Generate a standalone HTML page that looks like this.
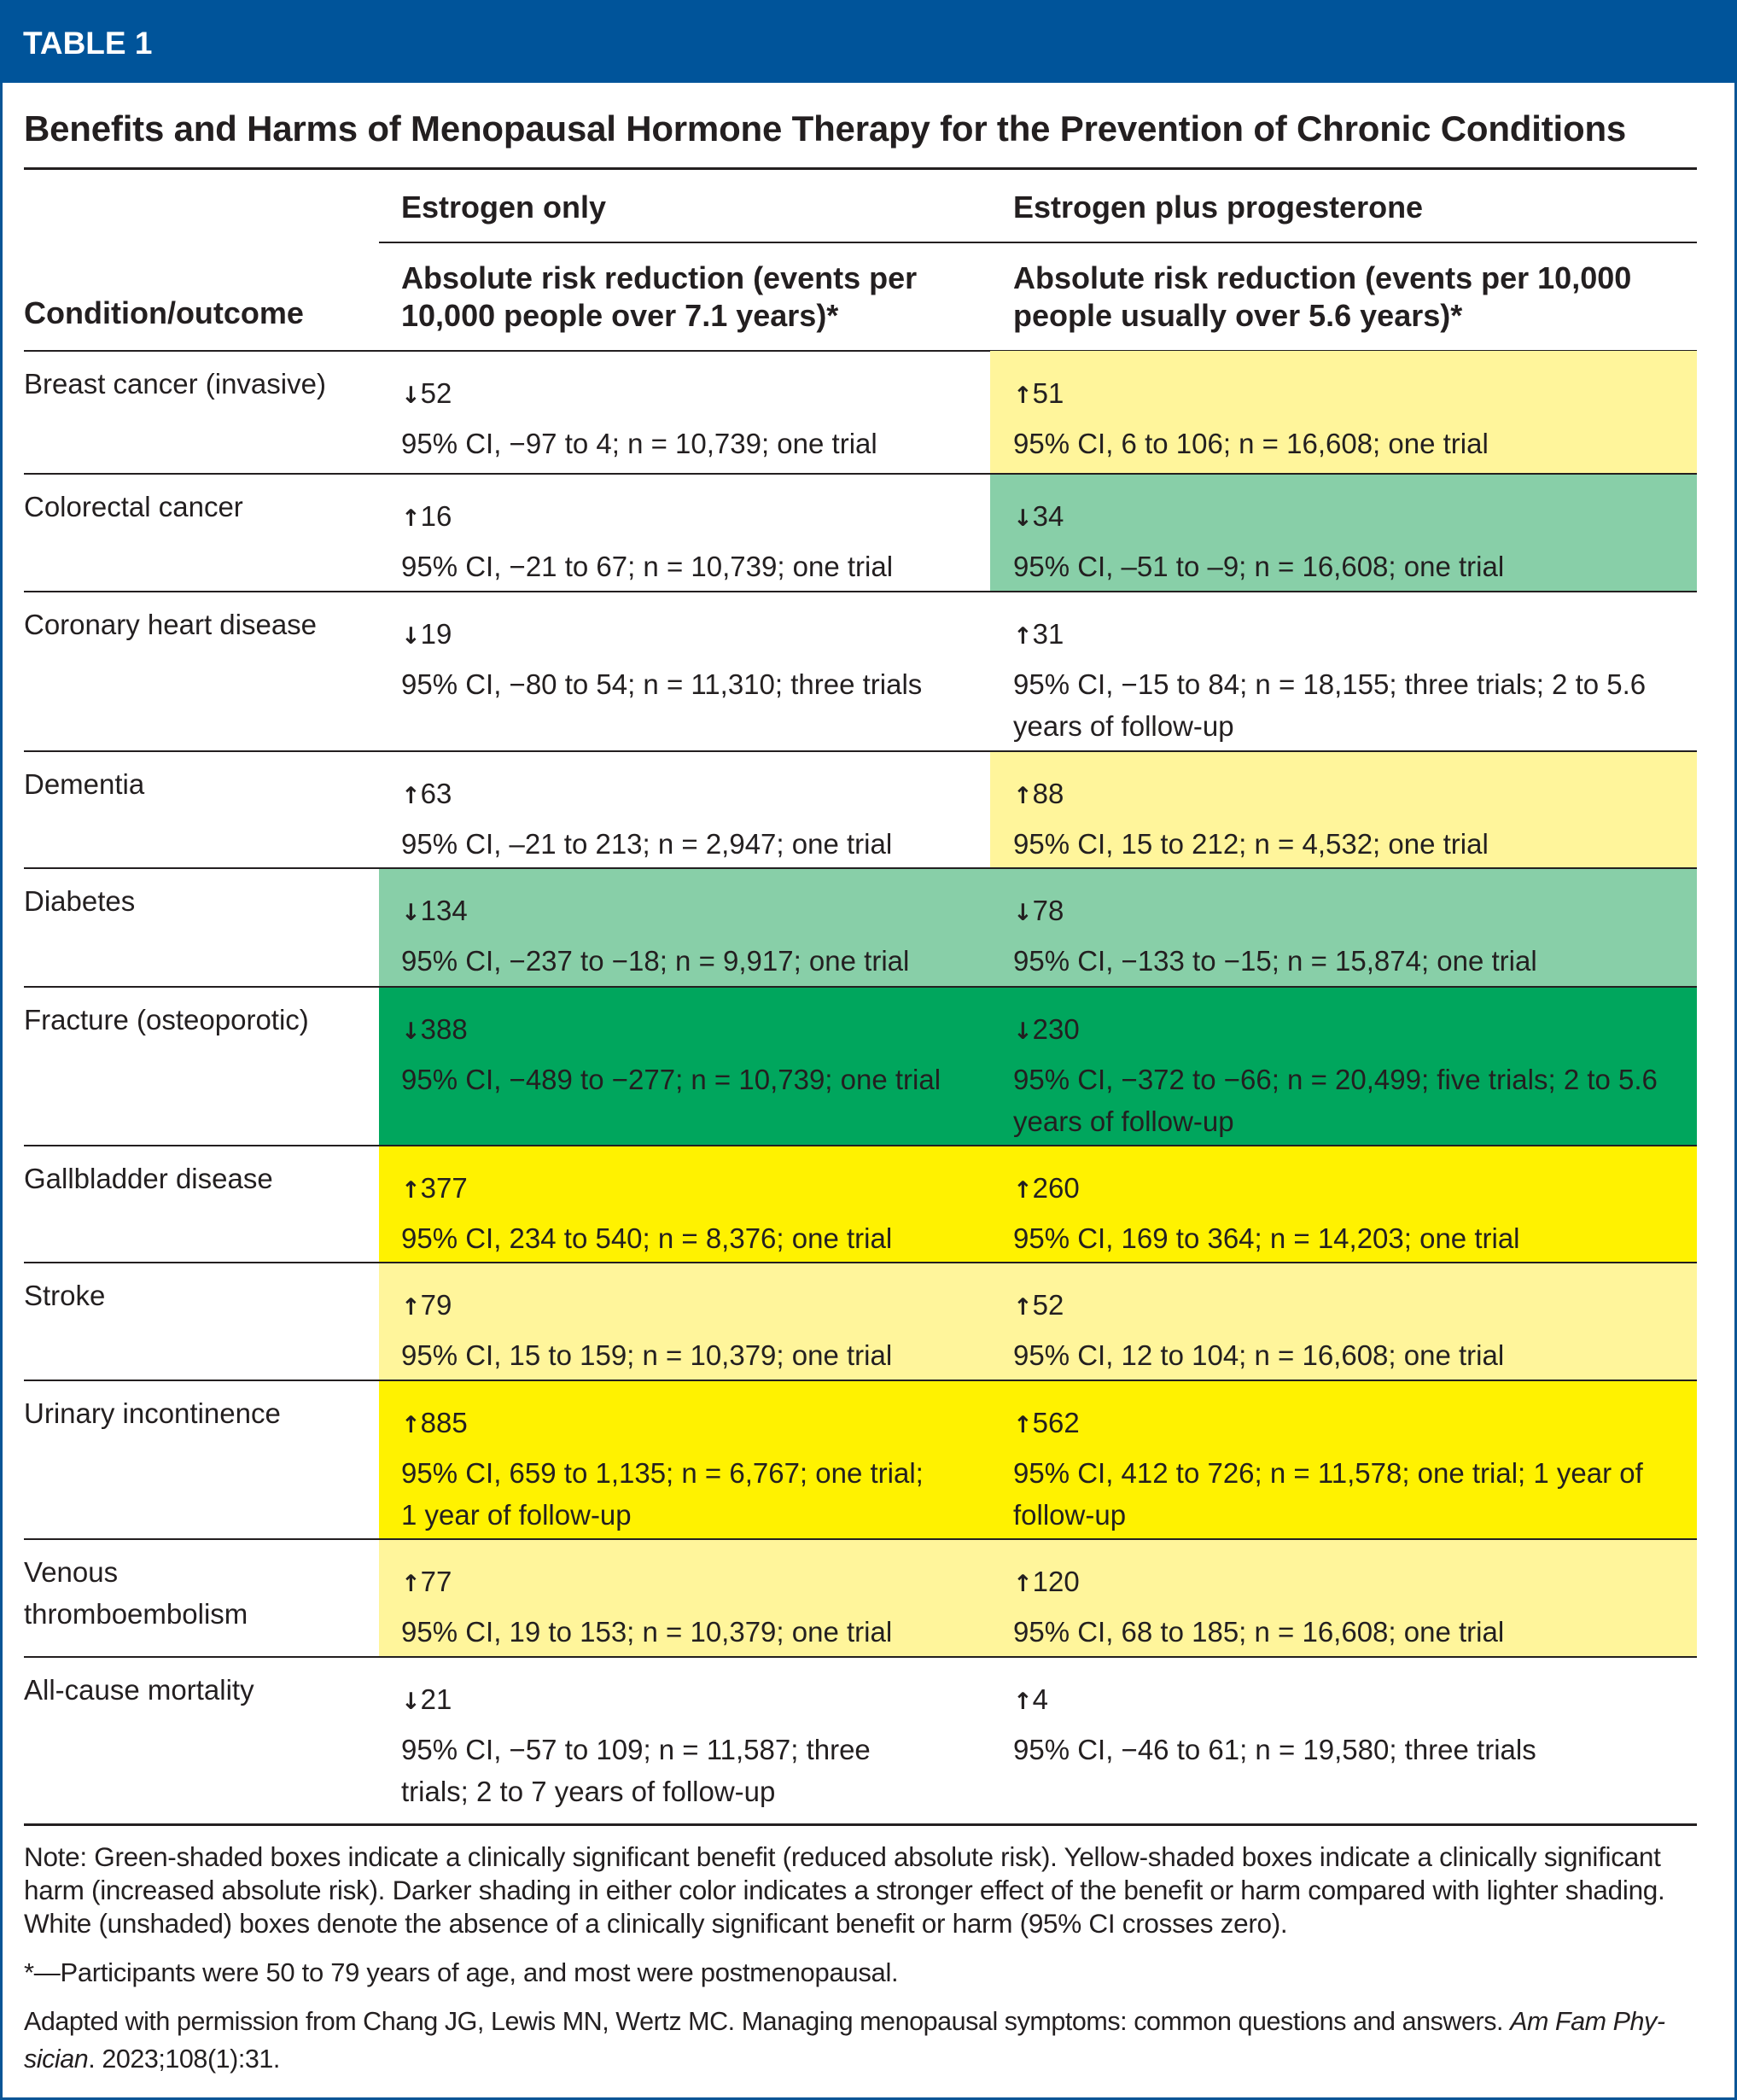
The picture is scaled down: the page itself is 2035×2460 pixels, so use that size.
<!DOCTYPE html>
<html><head><meta charset="utf-8">
<style>
*{margin:0;padding:0;box-sizing:border-box}
body{width:2035px;height:2460px;position:relative;background:#fff;font-family:"Liberation Sans",sans-serif;color:#231f20;overflow:hidden}
.abs{position:absolute}
.t{position:absolute;white-space:nowrap;font-size:33px;line-height:49px}
.b{font-weight:bold}
.rule{position:absolute;background:#231f20}
.arr{font-family:"DejaVu Sans",sans-serif;font-weight:bold;font-size:27px;margin-right:0px}
</style></head><body>
<div class="abs" style="left:0;top:0;width:2035px;height:2460px;border:3px solid #0a5596;border-top:none"></div>
<div class="abs" style="left:0;top:0;width:2035px;height:97px;background:#00549a"></div>
<div class="abs b" style="left:27px;top:30px;font-size:37px;line-height:42px;color:#fff">TABLE 1</div>
<div class="abs b" style="left:28px;top:126px;font-size:42px;line-height:50px;letter-spacing:-0.2px">Benefits and Harms of Menopausal Hormone Therapy for the Prevention of Chronic Conditions</div>
<div class="rule" style="left:28px;top:196px;width:1960px;height:3px"></div>
<div class="t b" style="left:470px;top:218px;font-size:36px">Estrogen only</div>
<div class="t b" style="left:1187px;top:218px;font-size:36px">Estrogen plus progesterone</div>
<div class="rule" style="left:444px;top:283px;width:1544px;height:2px"></div>
<div class="t b" style="left:28px;top:345px;font-size:36px;line-height:44px">Condition/outcome</div>
<div class="t b" style="left:470px;top:304px;font-size:36px;line-height:44px">Absolute risk reduction (events per<br>10,000 people over 7.1 years)*</div>
<div class="t b" style="left:1187px;top:304px;font-size:36px;line-height:44px">Absolute risk reduction (events per 10,000<br>people usually over 5.6 years)*</div>
<div class="rule" style="left:28px;top:410px;width:1960px;height:2px"></div>
<div id="rows"></div>
<div class="rule" style="left:28px;top:2136px;width:1960px;height:3px"></div>
<div class="abs" style="left:28px;top:2156px;font-size:31.5px;line-height:39px;white-space:nowrap;letter-spacing:-0.3px">Note: Green-shaded boxes indicate a clinically significant benefit (reduced absolute risk). Yellow-shaded boxes indicate a clinically significant<br>harm (increased absolute risk). Darker shading in either color indicates a stronger effect of the benefit or harm compared with lighter shading.<br>White (unshaded) boxes denote the absence of a clinically significant benefit or harm (95% CI crosses zero).</div>
<div class="abs" style="left:28px;top:2291px;font-size:31px;line-height:39px;white-space:nowrap;letter-spacing:-0.3px">*—Participants were 50 to 79 years of age, and most were postmenopausal.</div>
<div class="abs" style="left:28px;top:2346px;font-size:30.5px;line-height:44px;white-space:nowrap;letter-spacing:-0.45px">Adapted with permission from Chang JG, Lewis MN, Wertz MC. Managing menopausal symptoms: common questions and answers. <i>Am Fam Phy-<br>sician</i>. 2023;108(1):31.</div>
<script>
const conditions=["Breast cancer (invasive)","Colorectal cancer","Coronary heart disease","Dementia","Diabetes","Fracture (osteoporotic)","Gallbladder disease","Stroke","Urinary incontinence","Venous|thromboembolism","All-cause mortality"];
const rowTops=[411,555,693,880,1017,1156,1342,1479,1617,1803,1941,2136];
const eoValues=["↓52","↑16","↓19","↑63","↓134","↓388","↑377","↑79","↑885","↑77","↓21"];
const eoCI=["95% CI, −97 to 4; n = 10,739; one trial","95% CI, −21 to 67; n = 10,739; one trial","95% CI, −80 to 54; n = 11,310; three trials","95% CI, –21 to 213; n = 2,947; one trial","95% CI, −237 to −18; n = 9,917; one trial","95% CI, −489 to −277; n = 10,739; one trial","95% CI, 234 to 540; n = 8,376; one trial","95% CI, 15 to 159; n = 10,379; one trial","95% CI, 659 to 1,135; n = 6,767; one trial;|1 year of follow-up","95% CI, 19 to 153; n = 10,379; one trial","95% CI, −57 to 109; n = 11,587; three|trials; 2 to 7 years of follow-up"];
const epValues=["↑51","↓34","↑31","↑88","↓78","↓230","↑260","↑52","↑562","↑120","↑4"];
const epCI=["95% CI, 6 to 106; n = 16,608; one trial","95% CI, –51 to –9; n = 16,608; one trial","95% CI, −15 to 84; n = 18,155; three trials; 2 to 5.6|years of follow-up","95% CI, 15 to 212; n = 4,532; one trial","95% CI, −133 to −15; n = 15,874; one trial","95% CI, −372 to −66; n = 20,499; five trials; 2 to 5.6|years of follow-up","95% CI, 169 to 364; n = 14,203; one trial","95% CI, 12 to 104; n = 16,608; one trial","95% CI, 412 to 726; n = 11,578; one trial; 1 year of|follow-up","95% CI, 68 to 185; n = 16,608; one trial","95% CI, −46 to 61; n = 19,580; three trials"];
const eoShade=["","","","","lg","dg","dy","ly","dy","ly",""];
const epShade=["ly","lg","","ly","lg","dg","dy","ly","dy","ly",""];
const shadeColors={ly:"#fff59b",dy:"#fff200",lg:"#88cfa8",dg:"#00a65d"};
const host=document.getElementById('rows');
function mk(cls,style,html){const d=document.createElement('div');d.className=cls;d.style.cssText=style;d.innerHTML=html;host.appendChild(d);return d;}
function valHtml(v){return '<span class="arr">'+v[0]+'</span>'+v.slice(1);}
for(let i=0;i<conditions.length;i++){
  const top=rowTops[i],h=rowTops[i+1]-top;
  if(eoShade[i]){const s=mk('abs','left:444px;top:'+top+'px;width:716px;height:'+h+'px;background:'+shadeColors[eoShade[i]],'');
    
    }
  if(epShade[i]){const s=mk('abs','left:1160px;top:'+top+'px;width:828px;height:'+h+'px;background:'+shadeColors[epShade[i]],'');
    
    }
  const c=mk('t','left:28px;top:'+(top+14)+'px',conditions[i].split('|').join('<br>'));
  
  
  const v1=mk('t','left:470px;top:'+(top+25)+'px',valHtml(eoValues[i]));
  
  
  const c1=mk('t','left:470px;top:'+(top+84)+'px',eoCI[i].split('|').join('<br>'));
  
  
  const v2=mk('t','left:1187px;top:'+(top+25)+'px',valHtml(epValues[i]));
  
  
  const c2=mk('t','left:1187px;top:'+(top+84)+'px',epCI[i].split('|').join('<br>'));
  
  
  if(i>0){const r=mk('rule','left:28px;top:'+(top-1)+'px;width:1960px;height:2px','');
    
    }
}
</script>
</body></html>
